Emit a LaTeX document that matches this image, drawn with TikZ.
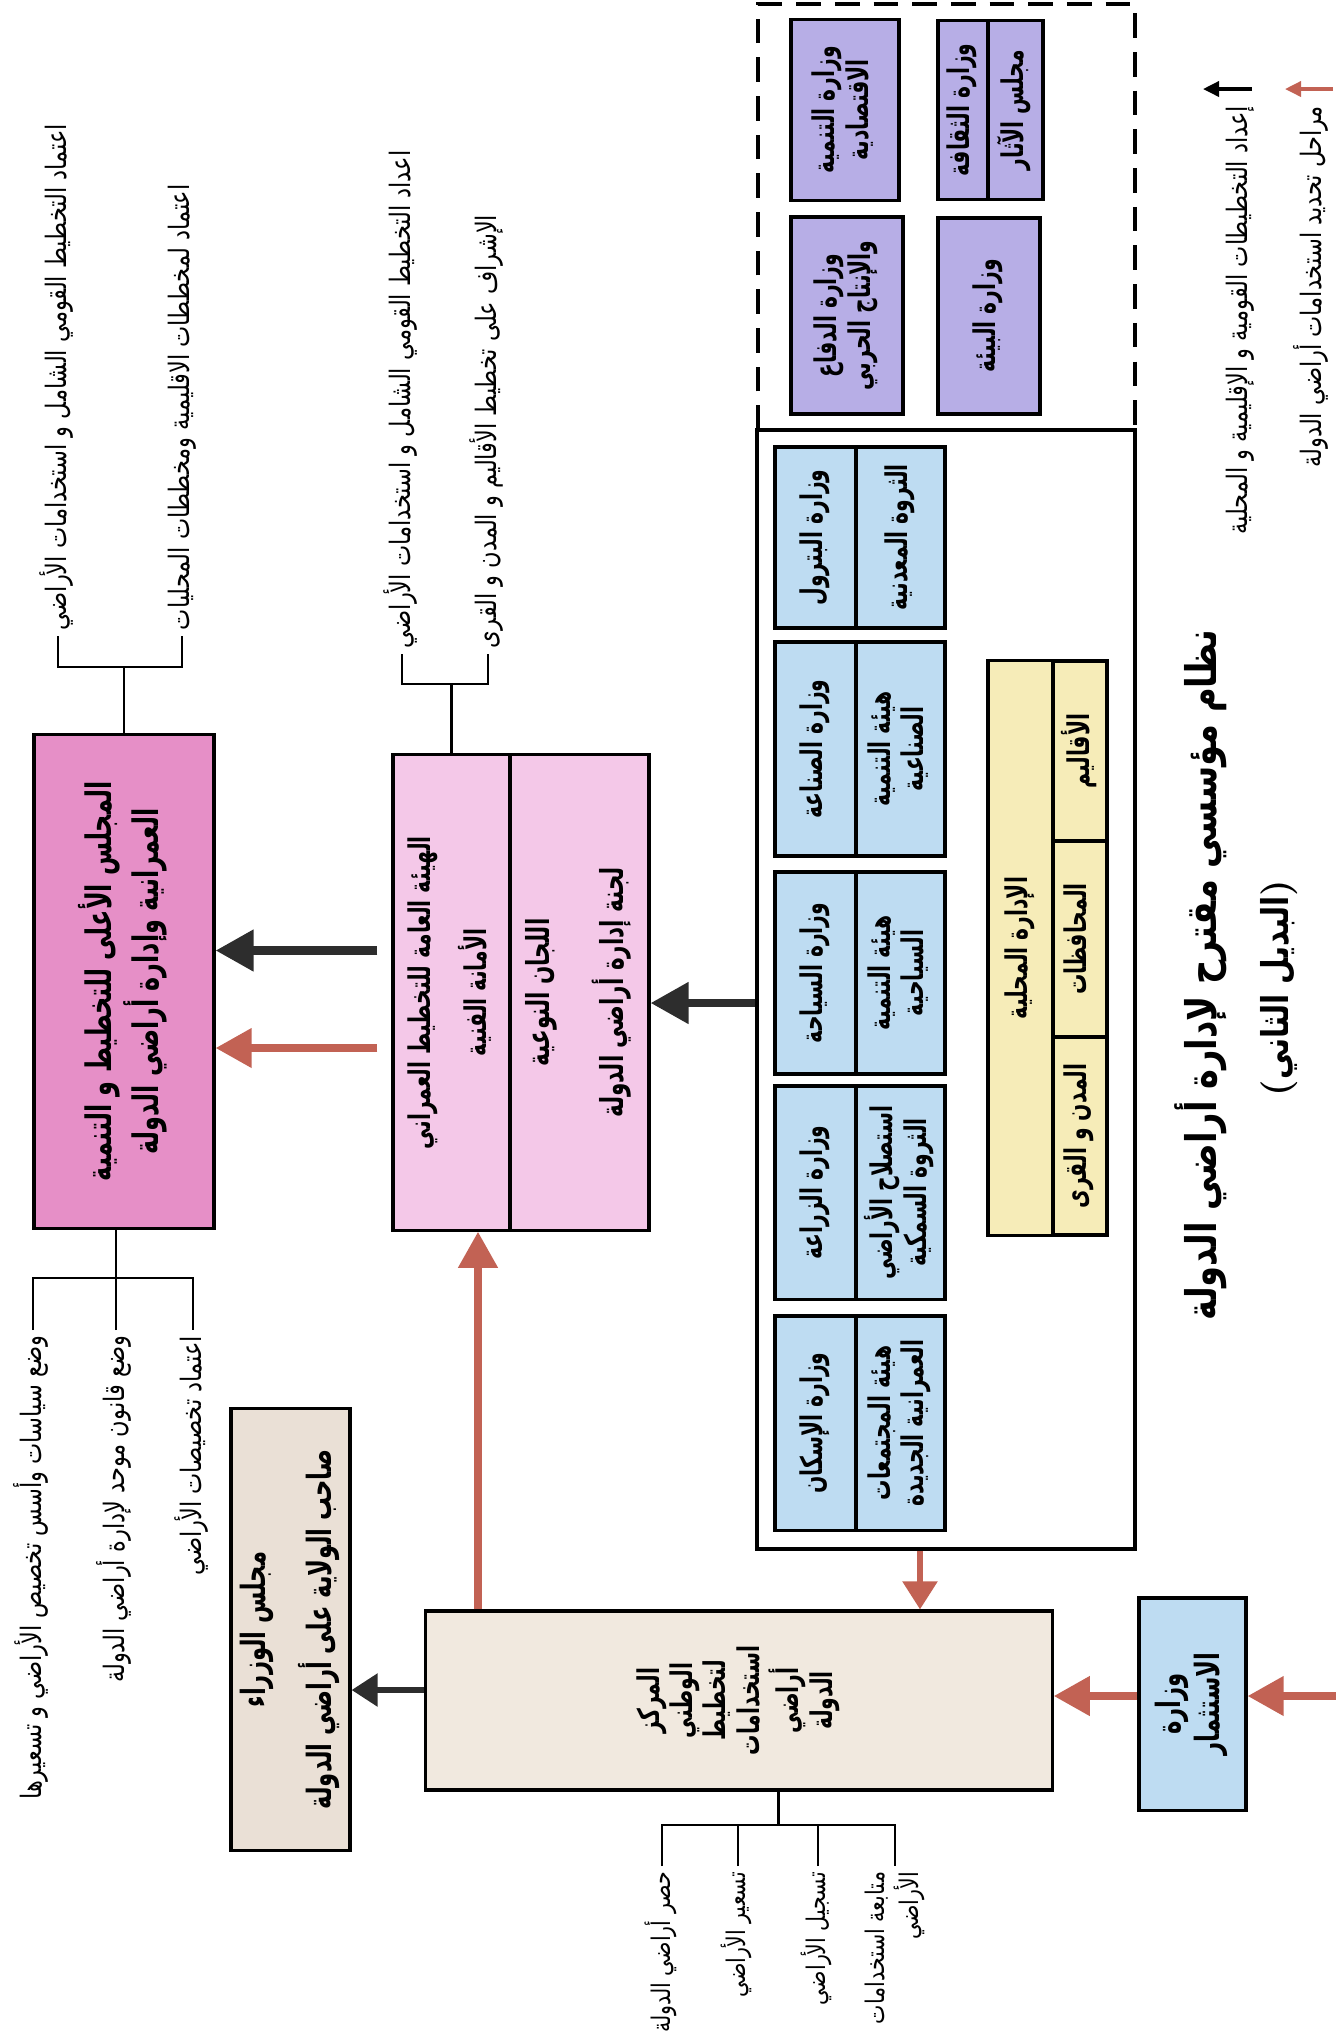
\documentclass[tikz,border=0pt]{standalone}
\usepackage{fontspec}
\usepackage{graphicx}
\usetikzlibrary{arrows.meta,calc}
\TeXXeTstate=1
\newfontfamily\arabicfont[Script=Arabic,FakeStretch=0.8]{DejaVu Sans}
\newfontfamily\arabicnarrow[Script=Arabic,FakeStretch=0.68]{DejaVu Sans}
\let\curarab\arabicfont
\newcommand{\arab}[1]{{\curarab\beginR #1\endR}}
\newcommand{\vtxt}[2][c]{\rotatebox{90}{\begin{tabular}{@{}#1@{}}#2\end{tabular}}}
\definecolor{lila}{RGB}{183,174,230}
\definecolor{sky}{RGB}{190,220,242}
\definecolor{sand}{RGB}{246,236,184}
\definecolor{rose}{RGB}{230,143,199}
\definecolor{blush}{RGB}{244,200,232}
\definecolor{cream}{RGB}{241,233,223}
\definecolor{stone}{RGB}{234,224,214}
\definecolor{arrblk}{RGB}{45,45,45}
\definecolor{arrred}{RGB}{194,98,84}

\begin{document}
\begin{tikzpicture}[x=0.01cm,y=-0.01cm,
  frame/.style={draw,line width=0.9pt,inner sep=0pt},
  lbl/.style={font=\fontsize{8.5}{9.5}\selectfont\bfseries,execute at begin node=\let\curarab\arabicnarrow},
  note/.style={inner sep=1.5pt,font=\fontsize{8}{10}\selectfont},
  brk/.style={line width=0.6pt},
  blkarr/.style={draw=arrblk,line width=2.3pt,-{Triangle[length=0.38cm,width=0.4cm]}},
  redarr/.style={draw=arrred,line width=2.1pt,-{Triangle[length=0.36cm,width=0.38cm]}},
  smallblk/.style={draw=arrblk,line width=1.6pt,-{Triangle[length=0.26cm,width=0.32cm]}},
  smallred/.style={draw=arrred,line width=1.6pt,-{Triangle[length=0.28cm,width=0.34cm]}},
  legblk/.style={draw=black,line width=1pt,-{Triangle[length=0.16cm,width=0.15cm]}},
  legred/.style={draw=arrred,line width=1pt,-{Triangle[length=0.16cm,width=0.15cm]}}]

\useasboundingbox (0,0) rectangle (1336,2041);

% ministries outside the system
\draw[line width=1.4pt,dash pattern=on 7pt off 4pt] (758,430) -- (758,4) -- (1135,4) -- (1135,430);
\node[frame,fill=lila,minimum width=1.08cm,minimum height=1.81cm,lbl] (econ) at (845,110) {\vtxt{\arab{وزارة التنمية}\\\arab{الاقتصادية}}};
\node[frame,fill=lila,minimum width=0.50cm,minimum height=1.79cm,lbl] (cult) at (963,110) {\vtxt{\arab{وزارة الثقافة}}};
\node[frame,fill=lila,minimum width=0.55cm,minimum height=1.79cm,lbl] (antiq) at (1015.5,110) {\vtxt{\arab{مجلس الآثار}}};
\node[frame,fill=lila,minimum width=1.12cm,minimum height=1.97cm,lbl] (def) at (847,315.5) {\vtxt{\arab{وزارة الدفاع}\\\arab{والإنتاج الحربي}}};
\node[frame,fill=lila,minimum width=1.02cm,minimum height=1.96cm,lbl] (env) at (989,316) {\vtxt{\arab{وزارة البيئة}}};

% ministries inside the system
\node[draw,line width=1.2pt,minimum width=3.78cm,minimum height=11.19cm] (mins) at (946,989.5) {};
\foreach \n/\yc/\h/\ta/\tb in {
  pet/537.5/1.81/{\arab{وزارة البترول}}/{\arab{الثروة المعدنية}},
  ind/749/2.14/{\arab{وزارة الصناعة}}/{\arab{هيئة التنمية}\\\arab{الصناعية}},
  tour/973/2.02/{\arab{وزارة السياحة}}/{\arab{هيئة التنمية}\\\arab{السياحية}},
  agr/1192.5/2.13/{\arab{وزارة الزراعة}}/{\arab{استصلاح الأراضي}\\\arab{الثروة السمكية}},
  hous/1423/2.14/{\arab{وزارة الإسكان}}/{\arab{هيئة المجتمعات}\\\arab{العمرانية الجديدة}}}{
  \node[frame,fill=sky,minimum width=0.81cm,minimum height=\h cm,lbl] (\n) at (815.5,\yc) {\vtxt{\ta}};
  \node[frame,fill=sky,minimum width=0.89cm,minimum height=\h cm,lbl] (\n b) at (900.5,\yc) {\vtxt{\tb}};
}
\node[frame,fill=sand,minimum width=0.65cm,minimum height=5.74cm,lbl] (loc) at (1020.5,948) {\vtxt{\arab{الإدارة المحلية}}};
\node[frame,fill=sand,minimum width=0.54cm,minimum height=1.80cm,lbl] (reg) at (1080,751) {\vtxt{\arab{الأقاليم}}};
\node[frame,fill=sand,minimum width=0.54cm,minimum height=1.96cm,lbl] (gov) at (1080,939) {\vtxt{\arab{المحافظات}}};
\node[frame,fill=sand,minimum width=0.54cm,minimum height=1.98cm,lbl] (city) at (1080,1136) {\vtxt{\arab{المدن و القرى}}};

% councils and authorities
\node[frame,fill=rose,minimum width=1.80cm,minimum height=4.93cm,lbl,font=\fontsize{10}{11.5}\selectfont\bfseries] (sup) at (124,981.5) {\vtxt{\arab{المجلس الأعلى للتخطيط و التنمية}\\\arab{العمرانية وإدارة أراضي الدولة}}};
\node[frame,fill=blush,minimum width=1.17cm,minimum height=4.75cm,lbl] (auth) at (451.5,992.5) {\vtxt{\arab{الهيئة العامة للتخطيط العمراني}\\[5pt]\arab{الأمانة الفنية}}};
\node[frame,fill=blush,minimum width=1.39cm,minimum height=4.75cm,lbl,font=\fontsize{9}{10}\selectfont\bfseries] (comm) at (579.5,992.5) {\vtxt{\arab{اللجان النوعية}\\[9pt]\arab{لجنة إدارة أراضي الدولة}}};
\node[frame,fill=cream,minimum width=6.26cm,minimum height=1.79cm,lbl] (nc) at (739,1700.5) {\vtxt{\arab{المركز}\\\arab{الوطني}\\\arab{لتخطيط}\\\arab{استخدامات}\\\arab{أراضي}\\\arab{الدولة}}};
\node[frame,fill=stone,minimum width=1.19cm,minimum height=4.41cm,lbl,font=\fontsize{9.5}{11}\selectfont\bfseries] (cab) at (290.5,1629.5) {\vtxt{\arab{مجلس الوزراء}\\[6pt]\arab{صاحب الولاية على أراضي الدولة}}};
\node[frame,fill=sky,minimum width=1.07cm,minimum height=2.12cm,lbl,font=\fontsize{9.5}{11}\selectfont\bfseries] (inv) at (1192.5,1704) {\vtxt{\arab{وزارة}\\\arab{الاستثمار}}};

% tasks
\node[note,anchor=south] (t1) at (58,636) {\vtxt{\arab{اعتماد التخطيط القومي الشامل و استخدامات الأراضي}}};
\node[note,anchor=south] (t2) at (182,636) {\vtxt{\arab{اعتماد لمخططات الاقليمية ومخططات المحليات}}};
\node[note,anchor=south] (t3) at (402,654) {\vtxt{\arab{اعداد التخطيط القومي الشامل و استخدامات الأراضي}}};
\node[note,anchor=south] (t4) at (488,654) {\vtxt{\arab{الإشراف على تخطيط الأقاليم و المدن و القرى}}};
\node[note,anchor=north] (t5) at (33,1330) {\vtxt{\arab{وضع سياسات وأسس تخصيص الأراضي و تسعيرها}}};
\node[note,anchor=north] (t6) at (116,1330) {\vtxt{\arab{وضع قانون موحد لإدارة أراضي الدولة}}};
\node[note,anchor=north] (t7) at (193,1330) {\vtxt{\arab{اعتماد تخصيصات الأراضي}}};
\node[note,anchor=north,font=\fontsize{7.3}{9}\selectfont] (b1) at (662,1866) {\vtxt{\arab{حصر أراضي الدولة}}};
\node[note,anchor=north,font=\fontsize{7.3}{9}\selectfont] (b2) at (738,1866) {\vtxt{\arab{تسعير الأراضي}}};
\node[note,anchor=north,font=\fontsize{7.3}{9}\selectfont] (b3) at (818,1866) {\vtxt{\arab{تسجيل الأراضي}}};
\node[note,anchor=north,font=\fontsize{7.3}{9}\selectfont] (b4) at (895,1866) {\vtxt[r]{\arab{متابعة استخدامات}\\\arab{الأراضي}}};

\draw[brk] (t1.south) -- ++(0,31) coordinate (k1) -| (t2.south);
\draw[brk] (sup.north) -- (sup.north |- k1);
\draw[brk] (t3.south) -- ++(0,30) coordinate (k2) -| (t4.south);
\draw[brk] (auth.north) -- (auth.north |- k2);
\draw[brk] (t5.north) -- ++(0,-52) coordinate (k3) -| (t7.north);
\draw[brk] (t6.north) -- (t6.north |- sup.south);
\draw[brk] (b1.north) -- ++(0,-41) coordinate (k4) -| (b4.north);
\draw[brk] (b2.north) -- (b2.north |- k4);
\draw[brk] (b3.north) -- (b3.north |- k4);
\coordinate (k5) at ($(k4)!.5!(k4 -| b4.north)$);
\draw[brk] (k5) -- (k5 |- nc.south);

% flows
\coordinate (a1) at ([shift={(-14,-42)}]auth.west);
\coordinate (a2) at ([shift={(-14,55.5)}]auth.west);
\coordinate (a3) at ([shift={(0,13.5)}]mins.west);
\coordinate (a4) at ([shift={(-261,0)}]nc.north);
\coordinate (a5) at ([shift={(-26,0)}]mins.south);
\coordinate (a6) at ([shift={(0,-10.5)}]nc.west);
\coordinate (a7) at ([shift={(0,-8)}]inv.west);
\coordinate (edge) at (1336,1696);
\draw[blkarr] (a1) -- (a1 -| sup.east);
\draw[redarr] (a2) -- (a2 -| sup.east);
\draw[blkarr] (a3) -- (a3 -| comm.east);
\draw[redarr] (a4) -- (a4 |- auth.south);
\draw[smallred] (a5) -- (a5 |- nc.north);
\draw[smallblk] (a6) -- (a6 -| cab.east);
\draw[redarr] (a7) -- (a7 -| nc.east);
\draw[redarr] (edge) -- (edge -| inv.east);

% title and key
\node[font=\fontsize{12}{14}\selectfont\bfseries] (title) at (1203,975) {\vtxt{\arab{نظام مؤسسي مقترح لإدارة أراضي الدولة}}};
\node[font=\fontsize{10.5}{12}\selectfont\bfseries] (subtitle) at (1280,988) {\vtxt{(\arab{البديل الثاني})}};
\coordinate (kb1) at (1252,89);
\coordinate (kb2) at (1203,89);
\coordinate (kr1) at (1333,89);
\coordinate (kr2) at (1285,89);
\draw[legblk] (kb1) -- (kb2);
\draw[legred] (kr1) -- (kr2);
\node[note,anchor=north] (key1) at (1240,100) {\vtxt{\arab{إعداد التخطيطات القومية و الإقليمية و المحلية}}};
\node[note,anchor=north] (key2) at (1313,100) {\vtxt{\arab{مراحل تحديد استخدامات أراضي الدولة}}};
\end{tikzpicture}
\end{document}
